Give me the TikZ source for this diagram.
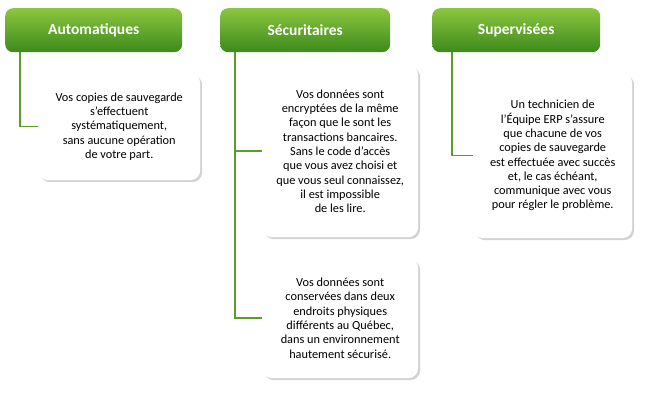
\documentclass[tikz,border=0pt]{standalone}
\usepackage{fontspec}
\setmainfont{Carlito}
\usetikzlibrary{shadows}
\definecolor{greenTop}{HTML}{8CC63F}
\definecolor{greenBot}{HTML}{3C8A1C}
\definecolor{lineGreen}{HTML}{5A9E2A}
\tikzset{%
  % header boxes and text boxes
  header/.style = {rectangle, rounded corners=8pt, top color=greenTop,
                   bottom color=greenBot, draw=none, text=white,
                   font=\bfseries\fontsize{15.5}{18}\selectfont,
                   minimum height=44pt, anchor=north west},
  infobox/.style = {rectangle, rounded corners=10pt, fill=white,
                    drop shadow={opacity=0.35, shadow xshift=2pt, shadow yshift=-2pt},
                    align=center, font=\fontsize{12.3}{14.3}\selectfont,
                    anchor=north west, inner sep=0pt},
  branch/.style = {draw=lineGreen, line width=1.5pt},
}
\begin{document}
\begin{tikzpicture}[x=1pt, y=-1pt]
  \useasboundingbox (0,0) rectangle (664,419);
  % headers
  \node (autoHdr) [header, minimum width=177pt] at (5,8) {Automatiques};
  \node (secuHdr) [header, minimum width=170pt] at (220,8) {Sécuritaires};
  \node (supHdr)  [header, minimum width=168pt] at (432,8) {Supervisées};
  % text boxes
  \node (autoBox) [infobox, minimum width=162pt, minimum height=107pt] at (38,73)
    {Vos copies de sauvegarde\\s’effectuent\\systématiquement,\\sans aucune opération\\de votre part.};
  \node (secuBox) [infobox, minimum width=156pt, minimum height=172pt] at (262,65)
    {Vos données sont\\encryptées de la même\\façon que le sont les\\transactions bancaires.\\Sans le code d’accès\\que vous avez choisi et\\que vous seul connaissez,\\il est impossible\\de les lire.};
  \node (lieuBox) [infobox, minimum width=156pt, minimum height=120pt] at (262,258)
    {Vos données sont\\conservées dans deux\\endroits physiques\\différents au Québec,\\dans un environnement\\hautement sécurisé.};
  \node (supBox)  [infobox, minimum width=159pt, minimum height=165pt] at (473,73)
    {Un technicien de\\l’Équipe ERP s’assure\\que chacune de vos\\copies de sauvegarde\\est effectuée avec succès\\et, le cas échéant,\\communique avec vous\\pour régler le problème.};
  % connectors
  \draw[branch] (autoHdr.south west) ++(15,0) |- (autoBox.west);
  \draw[branch] (secuHdr.south west) ++(15,0) |- (lieuBox.west);
  \draw[branch] (secuHdr.south west) ++(15,0) |- (secuBox.west);
  \draw[branch] (supHdr.south west) ++(20,0) |- (supBox.west);
\end{tikzpicture}
\end{document}
